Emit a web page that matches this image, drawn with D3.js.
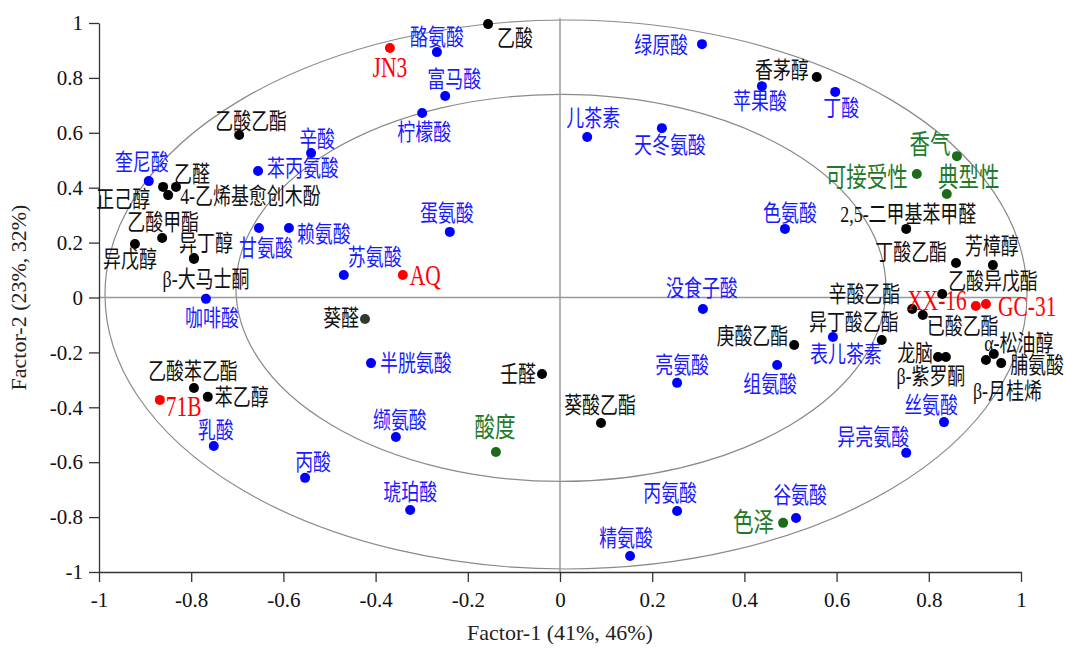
<!DOCTYPE html>
<html>
<head>
<meta charset="utf-8">
<script src="https://cdn.jsdelivr.net/npm/d3@7"></script>
<style>
  body { margin: 0; background: #fff; }
  svg { display: block; }
</style>
</head>
<body>
<svg id="chart"></svg>
<script>
// loadings / scores on the first two factors
const volNames = ["乙酸","乙酸乙酯","香茅醇","正己醇","乙醛","4-乙烯基愈创木酚","乙酸甲酯","异戊醇","异丁醇","β-大马士酮",
  "葵醛","乙酸苯乙酯","苯乙醇","壬醛","葵酸乙酯","庚酸乙酯","异丁酸乙酯","辛酸乙酯","已酸乙酯","乙酸异戊酯",
  "丁酸乙酯","芳樟醇","2,5-二甲基苯甲醛","龙脑","β-紫罗酮","α-松油醇","脯氨酸","β-月桂烯"];
const volF1 = [-0.156,-0.696,0.557,-0.861,-0.833,-0.850,-0.863,-0.922,-0.794,-0.794,
  -0.423,-0.794,-0.764,-0.039,0.089,0.508,0.698,0.764,0.787,0.829,
  0.859,0.939,0.751,0.820,0.837,0.941,0.957,0.924];
const volF2 = [0.996,0.592,0.803,0.403,0.403,0.373,0.217,0.195,0.144,0.140,
  -0.078,-0.330,-0.362,-0.279,-0.457,-0.173,-0.155,-0.042,-0.064,0.013,
  0.126,0.118,0.250,-0.217,-0.217,-0.206,-0.239,-0.228];

const nvNames = ["酪氨酸","富马酸","柠檬酸","辛酸","苯丙氨酸","奎尼酸","赖氨酸","甘氨酸","苏氨酸","蛋氨酸",
  "咖啡酸","半胱氨酸","缬氨酸","乳酸","丙酸","琥珀酸","精氨酸","丙氨酸","谷氨酸","亮氨酸",
  "组氨酸","没食子酸","表儿茶素","丝氨酸","异亮氨酸","色氨酸","儿茶素","天冬氨酸","绿原酸","苹果酸","丁酸"];
const nvF1 = [-0.267,-0.249,-0.299,-0.540,-0.655,-0.892,-0.588,-0.653,-0.469,-0.239,
  -0.768,-0.410,-0.356,-0.751,-0.553,-0.325,0.152,0.254,0.512,0.254,
  0.471,0.310,0.592,0.833,0.751,0.488,0.059,0.221,0.308,0.438,0.597];
const nvF2 = [0.894,0.734,0.672,0.526,0.461,0.424,0.253,0.253,0.082,0.239,
  -0.005,-0.239,-0.508,-0.541,-0.657,-0.774,-0.942,-0.778,-0.803,-0.311,
  -0.246,-0.042,-0.144,-0.454,-0.566,0.250,0.585,0.617,0.923,0.770,0.749];

const sampleNames = ["JN3","AQ","71B","XX-16","GC-31"];
const sampleF1 = [-0.369,-0.341,-0.868,0.902,0.924];
const sampleF2 = [0.909,0.082,-0.373,-0.031,-0.024];

const sensoryNames = ["香气","可接受性","典型性","酸度","色泽"];
const sensoryF1 = [0.861,0.774,0.839,-0.139,0.484];
const sensoryF2 = [0.515,0.450,0.377,-0.563,-0.821];

const tickValues = [-1,-0.8,-0.6,-0.4,-0.2,0,0.2,0.4,0.6,0.8,1];
const xTitle = "Factor-1 (41%, 46%)";
const yTitle = "Factor-2 (23%, 32%)";

// label placement: [anchor, dx, dy] in px, same order as names
const volLabelPos = [["s",9,14],["m",12,-14],["e",-8,-7],["e",-13,12],["m",16,-13],["s",12,1],["m",1,-16],["m",-5,15],["m",12,-15],["m",12,20],
  ["e",-6,-1],["m",-1,-17],["s",7,0],["e",-6,0],["m",-1,-18],["e",-6,-9],["m",-28,-18],["e",-12,-15],["s",4,11],["s",6,-13],
  ["e",-9,-11],["m",-1,-19],["m",2,-15],["e",-5,-4],["m",-15,19],["m",25,-11],["s",9,2],["s",-13,31]];
const nvLabelPos = [["m",0,-15],["m",9,-17],["m",2,19],["m",6,-14],["s",9,-3],["m",-7,-19],["s",8,6],["m",7,20],["s",4,-18],["m",-3,-19],
  ["m",6,19],["s",9,0],["m",4,-17],["m",2,-16],["m",8,-16],["m",0,-18],["m",-4,-18],["m",-7,-18],["m",4,-23],["m",5,-18],
  ["m",-7,19],["m",-1,-21],["m",13,17],["m",-13,-17],["m",-33,-16],["m",5,-16],["m",6,-19],["m",8,17],["e",-14,1],["m",-2,15],["m",6,16]];
const sampleLabelPos = [["m",0,19],["s",7,0],["s",6,6],["e",-9,-6],["s",12,2]];
const sensoryLabelPos = [["m",-27,-11],["e",-9,4],["m",22,-16],["m",-1,-24],["e",-9,0]];

const W = 1065, H = 652;
const svg = d3.select("#chart").attr("width", W).attr("height", H);

const x = d3.scaleLinear().domain([-1, 1]).range([99, 1021]);
const y = d3.scaleLinear().domain([-1, 1]).range([572, 23]);

const serif = "'Liberation Serif','Times New Roman','Noto Sans CJK SC',serif";

// correlation ellipses
const rings = [{cx: 0.013, cy: 0.011, r: 1}, {cx: 0.002, cy: 0.035, r: 0.705}];
svg.selectAll("ellipse.ring").data(rings).join("ellipse")
  .attr("class", "ring")
  .attr("cx", d => x(d.cx)).attr("cy", d => y(d.cy))
  .attr("rx", d => x(d.r) - x(0)).attr("ry", d => y(0) - y(d.r))
  .attr("fill", "none").attr("stroke", "#8a8a8a").attr("stroke-width", 1.2);

// zero lines
svg.append("line").attr("x1", x(0)).attr("x2", x(0)).attr("y1", y(1) - 5).attr("y2", y(-1))
  .attr("stroke", "#999").attr("stroke-width", 1.5);
svg.append("line").attr("x1", x(-1)).attr("x2", x(1)).attr("y1", y(0)).attr("y2", y(0))
  .attr("stroke", "#999").attr("stroke-width", 1.5);

// axes
const fmt = d => String(d);   // plain hyphen minus like the original
const xAxis = svg.append("g").attr("transform", `translate(0,${y(-1)})`)
  .call(d3.axisBottom(x).tickValues(tickValues).tickFormat(fmt).tickSize(10).tickSizeOuter(0));
const yAxis = svg.append("g").attr("transform", `translate(${x(-1)},0)`)
  .call(d3.axisLeft(y).tickValues(tickValues).tickFormat(fmt).tickSize(10).tickSizeOuter(0));
[xAxis, yAxis].forEach(g => {
  g.select(".domain").attr("stroke", "#333").attr("stroke-width", 1.3);
  g.selectAll(".tick line").attr("stroke", "#333").attr("stroke-width", 1.3);
  g.selectAll(".tick text").attr("fill", "#111").style("font", `21px ${serif}`);
});
xAxis.selectAll(".tick text").attr("dy", "1.05em");
yAxis.selectAll(".tick text").attr("x", -16);

svg.append("text").attr("x", x(0)).attr("y", 640).attr("text-anchor", "middle")
  .attr("fill", "#222").style("font", `22px ${serif}`).text(xTitle);
svg.append("text").attr("transform", `translate(26,${y(0)}) rotate(-90)`).attr("text-anchor", "middle")
  .attr("fill", "#222").style("font", `22px ${serif}`).text(yTitle);

// points
const groups = [
  {names: volNames, f1: volF1, f2: volF2, pos: volLabelPos, dot: "#000", text: "#111", size: 23, sx: 0.78},
  {names: nvNames, f1: nvF1, f2: nvF2, pos: nvLabelPos, dot: "#0000ff", text: "#1a1aff", size: 23, sx: 0.78},
  {names: sensoryNames, f1: sensoryF1, f2: sensoryF2, pos: sensoryLabelPos, dot: "#1a6b1a", text: "#23792a", size: 27, sx: 0.76},
  {names: sampleNames, f1: sampleF1, f2: sampleF2, pos: sampleLabelPos, dot: "#ff0000", text: "#ff0000", size: 29, sx: 0.74}
];
const anchors = {s: "start", m: "middle", e: "end"};

groups.forEach(g => {
  const rows = g.names.map((n, i) => ({name: n, f1: g.f1[i], f2: g.f2[i], pos: g.pos[i]}));
  const layer = svg.append("g");
  layer.selectAll("circle").data(rows).join("circle")
    .attr("cx", d => x(d.f1)).attr("cy", d => y(d.f2)).attr("r", 5)
    .attr("fill", d => d.name === "葵醛" ? "#2e3a2e" : g.dot);
  layer.selectAll("text").data(rows).join("text")
    .attr("transform", d => `translate(${x(d.f1) + d.pos[1]},${y(d.f2) + d.pos[2]}) scale(${g.sx},1)`)
    .attr("text-anchor", d => anchors[d.pos[0]])
    .attr("dominant-baseline", "central")
    .attr("fill", g.text)
    .style("font", `${g.size}px ${serif}`)
    .text(d => d.name);
});
</script>
</body>
</html>
